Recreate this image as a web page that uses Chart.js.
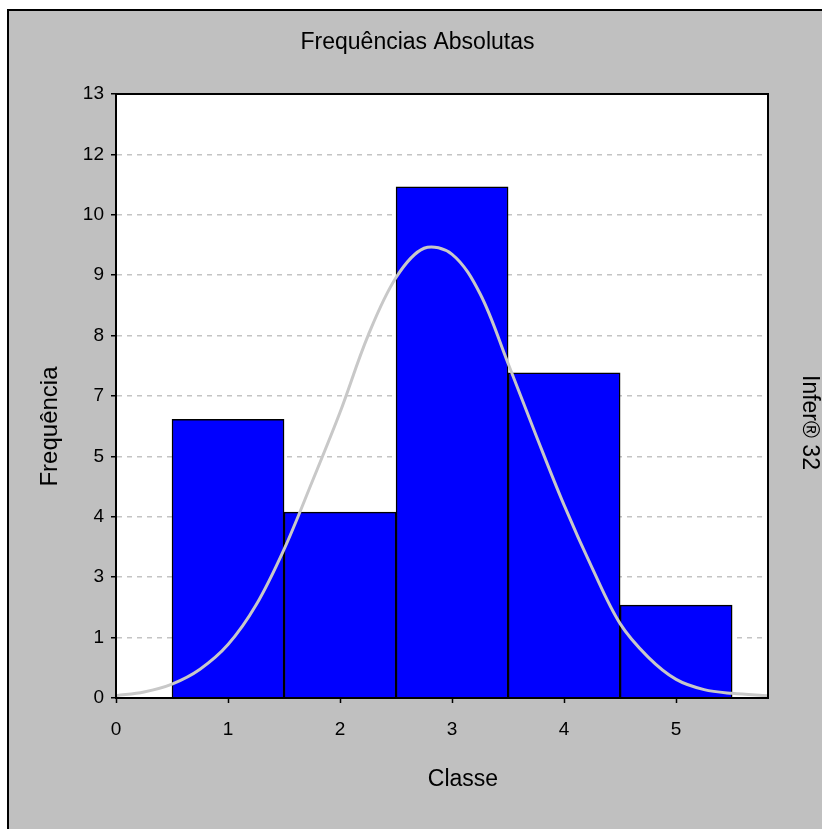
<!DOCTYPE html>
<html>
<head>
<meta charset="utf-8">
<title>Frequências Absolutas</title>
<script src="https://cdn.jsdelivr.net/npm/chart.js@4/dist/chart.umd.min.js"></script>
<style>
    html, body { margin: 0; padding: 0; background: #fff; overflow: hidden; }
    #moldura {
        position: absolute; left: 7px; top: 9px;
        width: 900px; height: 900px;
        background: #c0c0c0; border: 2px solid #000;
    }
    #quadro { position: absolute; left: 0; top: 0; width: 822px; height: 829px; }
</style>
</head>
<body>
<div id="moldura"></div>
<div id="quadro"><canvas id="histograma"></canvas></div>
<script>
// Classes e frequências absolutas
const classes = [1, 2, 3, 4, 5];
const frequencias = [6, 4, 11, 7, 2];

// Curva normal ajustada
const curvaX = [0, 0.25, 0.5, 0.75, 1.0, 1.25, 1.5, 1.75, 2.0, 2.25, 2.5, 2.75, 3.0, 3.25, 3.5, 3.75, 4.0, 4.25, 4.5, 4.75, 5.0, 5.25, 5.5, 5.82];
const curvaY = [0.05, 0.13, 0.30, 0.62, 1.15, 2.0, 3.2, 4.65, 6.15, 7.8, 9.05, 9.68, 9.55, 8.7, 7.2, 5.65, 4.15, 2.8, 1.6, 0.88, 0.4, 0.18, 0.1, 0.05];

// Eixos
const xTicks = [0, 1, 2, 3, 4, 5];
const xMax = 5.82;
const yTickValores = [0, 1.3, 2.6, 3.9, 5.2, 6.5, 7.8, 9.1, 10.4, 11.7, 13];
const yTickRotulos = ['0', '1', '3', '4', '5', '7', '8', '9', '10', '12', '13'];

const fonte = "'Liberation Sans', Arial, sans-serif";

// fundo branco da área do gráfico
const fundoPlugin = {
    id: 'fundo',
    beforeDraw(chart) {
        const a = chart.chartArea;
        chart.ctx.save();
        chart.ctx.fillStyle = '#fff';
        chart.ctx.fillRect(a.left, a.top, a.right - a.left, a.bottom - a.top);
        chart.ctx.restore();
    }
};

// Textos fora da área do gráfico
const textosPlugin = {
    id: 'textos',
    afterDraw(chart) {
        const ctx = chart.ctx;
        const a = chart.chartArea;
        ctx.save();
        // moldura da área do gráfico
        ctx.strokeStyle = '#000';
        ctx.lineWidth = 2;
        ctx.strokeRect(a.left, a.top, a.right - a.left, a.bottom - a.top);

        ctx.fillStyle = '#000';
        ctx.textAlign = 'center';
        ctx.textBaseline = 'alphabetic';
        ctx.font = '23px ' + fonte;
        ctx.fillText('Frequências Absolutas', 417.5, 49);

        ctx.font = '23px ' + fonte;
        ctx.fillText('Classe', 463, 786);

        ctx.save();
        ctx.translate(56.5, 426.5);
        ctx.rotate(-Math.PI / 2);
        ctx.font = '24px ' + fonte;
        ctx.fillText('Frequência', 0, 0);
        ctx.restore();

        ctx.save();
        ctx.translate(803, 375);
        ctx.rotate(Math.PI / 2);
        ctx.textAlign = 'left';
        ctx.font = '23px ' + fonte;
        ctx.fillText('Infer® 32', 0, 0);
        ctx.restore();
        ctx.restore();
    }
};

const ctx = document.getElementById('histograma').getContext('2d');
new Chart(ctx, {
    type: 'bar',
    data: {
        datasets: [{
            type: 'line',
            label: 'Normal',
            data: curvaX.map((x, i) => ({ x: x, y: curvaY[i] })),
            borderColor: '#c8c8c8',
            borderWidth: 3,
            pointRadius: 0,
            tension: 0.35,
            fill: false,
            order: 0
        }, {
            type: 'bar',
            label: 'Frequência',
            data: classes.map((c, i) => ({ x: c, y: frequencias[i] })),
            backgroundColor: '#0000ff',
            borderColor: '#000',
            borderWidth: 1.5,
            barPercentage: 1,
            categoryPercentage: 1,
            order: 1
        }]
    },
    options: {
        responsive: true,
        maintainAspectRatio: false,
        animation: false,
        layout: { padding: { left: 0, top: 94, right: 54, bottom: 0 } },
        plugins: {
            legend: { display: false },
            tooltip: { enabled: false },
            title: { display: false }
        },
        scales: {
            x: {
                type: 'linear',
                min: 0,
                max: xMax,
                offset: false,
                afterBuildTicks: s => { s.ticks = xTicks.map(v => ({ value: v })); },
                afterFit: s => { s.height = 829 - 698; },
                grid: { offset: false, drawOnChartArea: false, tickLength: 5, tickColor: '#000', tickWidth: 1.5 },
                border: { color: '#000', width: 2 },
                ticks: {
                    color: '#000',
                    font: { family: fonte, size: 19 },
                    padding: 15,
                    maxRotation: 0,
                    callback: v => String(v)
                }
            },
            y: {
                min: 0,
                max: 13,
                afterBuildTicks: s => { s.ticks = yTickValores.map(v => ({ value: v })); },
                afterFit: s => { s.width = 116; },
                grid: {
                    color: c => (c.index === 0 || c.index === yTickValores.length - 1) ? 'rgba(0,0,0,0)' : '#c4c4c4',
                    lineWidth: 1.5,
                    borderDash: [5, 5],
                    tickLength: 5,
                    tickColor: '#000',
                    tickWidth: 1.5,
                    tickBorderDash: []
                },
                border: { color: '#000', width: 2, dash: [5, 5] },
                ticks: {
                    color: '#000',
                    font: { family: fonte, size: 19 },
                    padding: 7,
                    callback: (v, i) => yTickRotulos[i]
                }
            }
        }
    },
    plugins: [fundoPlugin, textosPlugin]
});
</script>
</body>
</html>
